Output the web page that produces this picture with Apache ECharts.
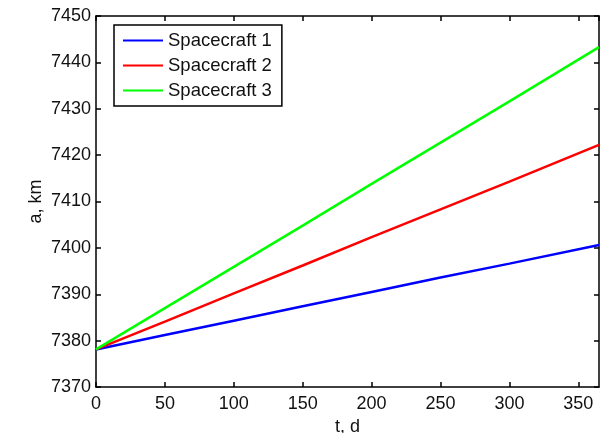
<!DOCTYPE html>
<html>
<head>
<meta charset="utf-8">
<script src="https://cdn.jsdelivr.net/npm/echarts@6/dist/echarts.min.js"></script>
<style>html,body{margin:0;padding:0;background:#fff}#c{width:605px;height:433px}</style>
</head>
<body>
<div id="c"></div>
<script>
var t = [0, 50, 100, 150, 200, 250, 300, 365];
var sc1 = [7378.1, 7381.2, 7384.3, 7387.4, 7390.5, 7393.6, 7396.6, 7400.6];
var sc2 = [7378.1, 7384.1, 7390.2, 7396.2, 7402.3, 7408.3, 7414.3, 7422.2];
var sc3 = [7378.1, 7387.0, 7395.9, 7404.8, 7413.8, 7422.7, 7431.6, 7443.3];
var names = ['Spacecraft 1', 'Spacecraft 2', 'Spacecraft 3'];
var colors = ['#0000ff', '#ff0000', '#00ff00'];
var xName = 't, d';
var yName = 'a, km';

function pairs(xs, ys) { return xs.map(function (x, i) { return [x, ys[i]]; }); }

var font = 'Liberation Sans';
var axisLine = { show: true, onZero: false, lineStyle: { color: '#000', width: 1.5 } };
var tick = { show: true, inside: true, length: 5, lineStyle: { color: '#000', width: 1.5 } };
var plain = function (v) { return String(v); };

var chart = echarts.init(document.getElementById('c'), null, { renderer: 'canvas' });
chart.setOption({
  animation: false,
  backgroundColor: '#fff',
  grid: { left: 96, right: 6, top: 16, bottom: 46, containLabel: false, outerBoundsMode: 'none' },
  legend: {
    orient: 'vertical', left: 114, top: 25,
    backgroundColor: '#fff', borderColor: '#000', borderWidth: 1.5,
    padding: [6, 10, 6, 9], itemGap: 6,
    icon: 'rect', itemWidth: 40, itemHeight: 2,
    textStyle: { fontFamily: font, fontSize: 18.5, color: '#111' },
    data: names
  },
  xAxis: [{
    type: 'value', min: 0, max: 365, interval: 50,
    name: xName, nameLocation: 'middle', nameGap: 25,
    nameTextStyle: { fontFamily: font, fontSize: 18, color: '#111' },
    axisLine: axisLine, axisTick: tick, splitLine: { show: false },
    axisLabel: { fontFamily: font, fontSize: 18, color: '#111', margin: 8, showMaxLabel: false, formatter: plain }
  }, {
    type: 'value', min: 0, max: 365, interval: 50, position: 'top',
    axisLine: axisLine, axisTick: tick, splitLine: { show: false },
    axisLabel: { show: false }
  }],
  yAxis: [{
    type: 'value', min: 7370, max: 7450, interval: 10,
    name: yName, nameLocation: 'middle', nameGap: 51, nameRotate: 90, nameMoveOverlap: false,
    nameTextStyle: { fontFamily: font, fontSize: 18, color: '#111' },
    axisLine: axisLine, axisTick: tick, splitLine: { show: false },
    axisLabel: { fontFamily: font, fontSize: 18, color: '#111', margin: 5, formatter: plain }
  }, {
    type: 'value', min: 7370, max: 7450, interval: 10, position: 'right',
    axisLine: axisLine, axisTick: tick, splitLine: { show: false },
    axisLabel: { show: false }
  }],
  series: [sc1, sc2, sc3].map(function (d, i) {
    return {
      name: names[i], type: 'line', data: pairs(t, d),
      xAxisIndex: 0, yAxisIndex: 0,
      symbol: 'none', smooth: false,
      lineStyle: { color: colors[i], width: 2.5 },
      itemStyle: { color: colors[i] }
    };
  })
});
</script>
</body>
</html>
